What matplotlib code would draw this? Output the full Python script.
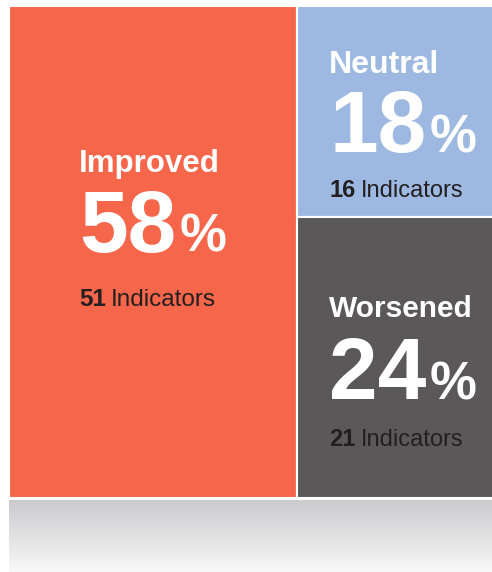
import numpy as np
import matplotlib.pyplot as plt
from matplotlib.patches import Rectangle
from matplotlib.colors import LinearSegmentedColormap

# data
categories = ['Improved', 'Neutral', 'Worsened']
percent = [58, 18, 24]
indicators = [51, 16, 21]

colors = ['#F5664A', '#9DB9E1', '#5A5859']
num_color = '#231F20'
# title dy, number dy, indicators dy (from rect centre), title size, indicators size
text_style = [(-80, 0, 54, 22.5, 17.5),
              (-38, 41, 86, 23, 17),
              (-40, 42, 89, 21.5, 17)]

plt.rcParams['font.family'] = ['Liberation Sans', 'DejaVu Sans']

W, H = 492, 572
fig = plt.figure(figsize=(W / 100, H / 100), dpi=100)
ax = fig.add_axes([0, 0, 1, 1])
ax.set_xlim(0, W)
ax.set_ylim(H, 0)
ax.axis('off')

# treemap area (right side runs past the picture edge)
x0, x1, y0, y1 = 9, 505, 6, 498
total = sum(percent)
xs = x0 + (x1 - x0) * percent[0] / total
ys = y0 + (y1 - y0) * percent[1] / (percent[1] + percent[2])
rects = [(x0, y0, xs - x0, y1 - y0),
         (xs, y0, x1 - xs, ys - y0),
         (xs, ys, x1 - xs, y1 - ys)]

for (rx, ry, rw, rh), c in zip(rects, colors):
    ax.add_patch(Rectangle((rx, ry), rw, rh, facecolor=c, edgecolor='white', lw=1.5))

# gray reflection below
grad = np.linspace(0, 1, 100).reshape(-1, 1)
cmap = LinearSegmentedColormap.from_list('g', ['#CBCBCD', '#F8F8F8'])
ax.imshow(grad, cmap=cmap, extent=(x0, W, 572, 500), aspect='auto', zorder=0)

renderer = fig.canvas.get_renderer()


def make_line(yb, parts, gap):
    texts = []
    for s, size, weight, col in parts:
        texts.append(ax.text(0, yb, s, fontsize=size, fontweight=weight, color=col,
                             ha='left', va='baseline'))
    widths = [t.get_window_extent(renderer).width for t in texts]
    return texts, widths, gap


def place(lines, xc):
    full = [sum(w) + g * (len(w) - 1) for _, w, g in lines]
    left = xc - max(full) / 2
    for texts, widths, gap in lines:
        x = left
        for t, w in zip(texts, widths):
            t.set_x(x)
            x += w + gap


for i, (rx, ry, rw, rh) in enumerate(rects):
    dt, dn, di, tsize, isize = text_style[i]
    xc = rx + rw / 2 + (2 if i else 0)
    yc = ry + rh / 2
    lines = [
        make_line(yc + dt, [(categories[i], tsize, 'bold', 'white')], 0),
        make_line(yc + dn, [(str(percent[i]), 63, 'bold', 'white'),
                            ('%', 38, 'bold', 'white')], 3),
        make_line(yc + di, [(str(indicators[i]), isize, 'bold', num_color),
                            ('Indicators', isize, 'normal', num_color)], 5),
    ]
    place(lines, xc)

fig.savefig('out.png', dpi=100)
